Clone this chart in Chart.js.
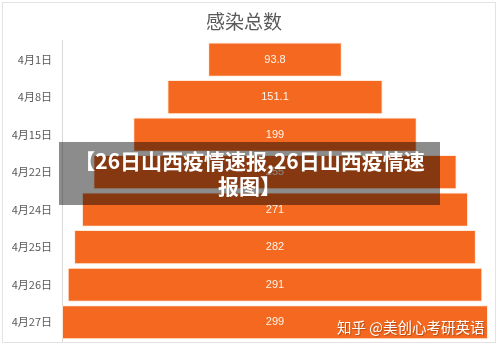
<!DOCTYPE html>
<html>
<head>
<meta charset="utf-8">
<script src="https://cdn.jsdelivr.net/npm/chart.js@4"></script>
<style>
  html, body { margin: 0; padding: 0; background: #fff; }
  #wrap { position: relative; width: 500px; height: 347px; }
  canvas { display: block; }
  #frame { position: absolute; left: 2px; top: 2px; width: 494px; height: 341px; border: 1px solid #e3e3e3; box-sizing: border-box; pointer-events: none; }
  #banner {
    position: absolute; left: 59px; top: 142px; width: 381px; height: 63px;
    background: rgba(0, 0, 0, 0.45); color: #fff;
    font-family: "Noto Sans CJK SC", sans-serif; font-weight: bold; font-size: 21px;
    line-height: 25px; text-align: center; padding-top: 6px; box-sizing: border-box;
  }
  #mark {
    position: absolute; left: 337px; top: 316px; color: #fff;
    font-family: "Noto Sans CJK SC", sans-serif; font-size: 14.5px;
    text-shadow: 1px 1px 1px rgba(60, 20, 0, 0.35);
  }
</style>
</head>
<body>
<div id="wrap">
  <canvas id="chart" width="500" height="347"></canvas>
  <div id="frame"></div>
  <div id="banner">【26日山西疫情速报,26日山西疫情速<br>报图】</div>
  <div id="mark">知乎 @美创心考研英语</div>
</div>
<script>
// data
const dates = ['4月1日', '4月8日', '4月15日', '4月22日', '4月24日', '4月25日', '4月26日', '4月27日'];
const totals = [93.8, 151.1, 199, 255, 271, 282, 291, 299];
const valueLabels = ['93.8', '151.1', '199', '255', '271', '282', '291', '299'];

const maxTotal = Math.max(...totals);

// centre each bar around zero so it looks like a funnel
const centred = totals.map(v => [-v / 2, v / 2]);

const barText = {
    id: 'barText',
    afterDatasetsDraw(chart) {
        const ctx = chart.ctx;
        const meta = chart.getDatasetMeta(0);
        ctx.save();
        ctx.font = '11px "Liberation Sans", Arial, sans-serif';
        ctx.fillStyle = '#fdf3ec';
        ctx.textAlign = 'center';
        ctx.textBaseline = 'middle';
        meta.data.forEach((bar, i) => {
            ctx.fillText(valueLabels[i], chart.scales.x.getPixelForValue(0), bar.y);
        });
        ctx.restore();
    }
};

new Chart(document.getElementById('chart'), {
    type: 'bar',
    data: {
        labels: dates,
        datasets: [{
            data: centred,
            backgroundColor: '#f4691f',
            borderColor: 'rgba(255, 230, 210, 0.8)',
            borderWidth: 1,
            borderSkipped: false,
            categoryPercentage: 1,
            barPercentage: 0.91
        }]
    },
    options: {
        indexAxis: 'y',
        responsive: false,
        animation: false,
        layout: { padding: { top: 3, right: 12, bottom: 6, left: 0 } },
        plugins: {
            legend: { display: false },
            tooltip: { enabled: false },
            title: {
                display: true,
                text: '感染总数',
                color: '#595959',
                font: { size: 19, family: '"Noto Sans CJK SC", sans-serif', weight: 'normal' },
                padding: { top: 7, bottom: 8 }
            }
        },
        scales: {
            x: {
                display: false,
                min: -maxTotal / 2,
                max: maxTotal / 2
            },
            y: {
                grid: { display: false, drawTicks: false },
                border: { display: true, color: '#d9d9d9', width: 1 },
                ticks: {
                    color: '#595959',
                    padding: 10,
                    font: { size: 11, family: '"Noto Sans CJK SC", sans-serif' }
                },
                afterFit(axis) {
                    axis.width = 62;
                    // the label padding would otherwise shrink the plot at the bottom
                    axis.paddingTop = 0;
                    axis.paddingBottom = 0;
                }
            }
        }
    },
    plugins: [barText]
});
</script>
</body>
</html>
